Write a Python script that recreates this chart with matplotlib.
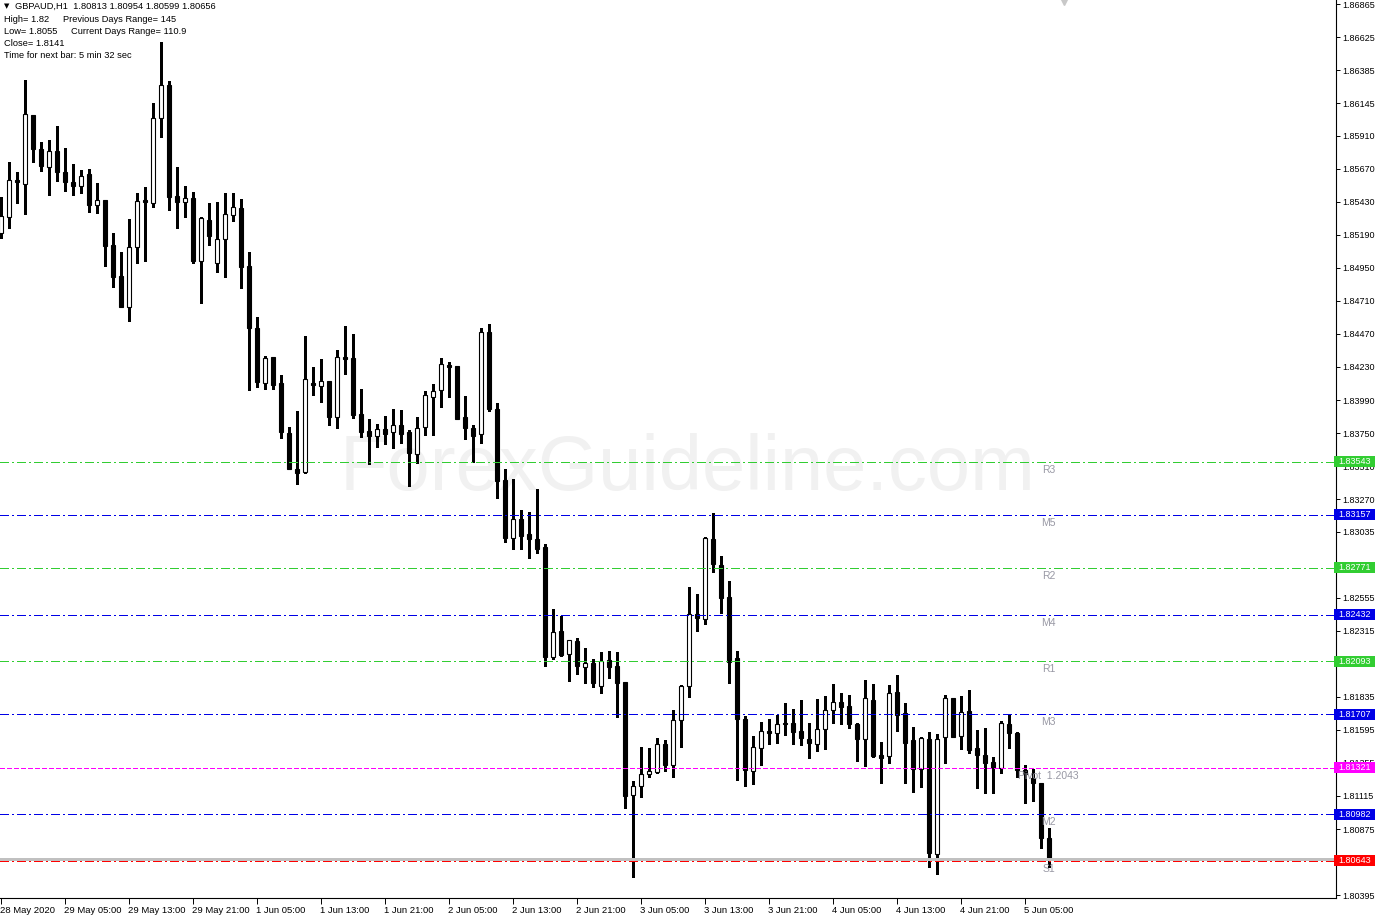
import matplotlib
matplotlib.use('Agg')
import numpy as np
import matplotlib.pyplot as plt
import matplotlib.transforms as mtransforms
from matplotlib.patches import Rectangle

# GBPAUD H1 bars, 28 May 2020 21:00 .. 5 Jun 2020 08:00
opens = [
    1.85201, 1.85321, 1.85588, 1.85557, 1.86060, 1.85811, 1.85680, 1.85799, 1.85644, 1.85571,
    1.85542, 1.85629, 1.85409, 1.85441, 1.85116, 1.84891, 1.84668, 1.85099, 1.85441, 1.85423,
    1.86036, 1.86278, 1.85470, 1.85430, 1.85457, 1.85002, 1.85297, 1.84983, 1.85157, 1.85332,
    1.85385, 1.84963, 1.84511, 1.84116, 1.84300, 1.84112, 1.83749, 1.83489, 1.83470, 1.84114,
    1.84094, 1.84128, 1.83869, 1.84300, 1.84293, 1.83889, 1.83765, 1.83731, 1.83780, 1.83756,
    1.83807, 1.83758, 1.83598, 1.83792, 1.84010, 1.84061, 1.84245, 1.84237, 1.83865, 1.83785,
    1.83741, 1.84482, 1.83923, 1.83409, 1.82986, 1.83126, 1.83015, 1.82979, 1.82923, 1.82122,
    1.82313, 1.82144, 1.82240, 1.82054, 1.82078, 1.81916, 1.82102, 1.82059, 1.81943, 1.81120,
    1.81185, 1.81272, 1.81287, 1.81490, 1.81338, 1.81665, 1.81911, 1.82434, 1.82398, 1.82979,
    1.82792, 1.82560, 1.82115, 1.81672, 1.81299, 1.81466, 1.81587, 1.81570, 1.81645, 1.81645,
    1.81587, 1.81529, 1.81490, 1.81599, 1.81737, 1.81795, 1.81768, 1.81635, 1.81527, 1.81812,
    1.81413, 1.81403, 1.81868, 1.81715, 1.81521, 1.81311, 1.81529, 1.80691, 1.81541, 1.81829,
    1.81548, 1.81732, 1.81461, 1.81413, 1.81364, 1.81316, 1.81638, 1.81574, 1.81304, 1.81243,
    1.81207, 1.80808,
]
highs = [
    1.85467, 1.85721, 1.85648, 1.86314, 1.86060, 1.85862, 1.85876, 1.85980, 1.85818, 1.85704,
    1.85661, 1.85668, 1.85564, 1.85441, 1.85201, 1.85067, 1.85305, 1.85491, 1.85537, 1.86145,
    1.86590, 1.86305, 1.85685, 1.85544, 1.85499, 1.85321, 1.85419, 1.85428, 1.85491, 1.85491,
    1.85450, 1.85063, 1.84595, 1.84310, 1.84305, 1.84172, 1.83796, 1.83913, 1.84455, 1.84232,
    1.84288, 1.84128, 1.84353, 1.84528, 1.84470, 1.84070, 1.83850, 1.83816, 1.83874, 1.83925,
    1.83918, 1.83773, 1.83865, 1.84056, 1.84107, 1.84293, 1.84264, 1.84237, 1.84019, 1.83809,
    1.84511, 1.84542, 1.83966, 1.83489, 1.83417, 1.83192, 1.83175, 1.83342, 1.82945, 1.82473,
    1.82424, 1.82248, 1.82260, 1.82187, 1.82107, 1.82158, 1.82168, 1.82158, 1.81943, 1.81224,
    1.81471, 1.81461, 1.81534, 1.81521, 1.81739, 1.81919, 1.82630, 1.82582, 1.82998, 1.83168,
    1.82858, 1.82676, 1.82168, 1.81699, 1.81551, 1.81652, 1.81672, 1.81703, 1.81792, 1.81744,
    1.81812, 1.81647, 1.81819, 1.81841, 1.81928, 1.81865, 1.81848, 1.81643, 1.81957, 1.81928,
    1.81507, 1.81921, 1.81993, 1.81788, 1.81616, 1.81541, 1.81580, 1.81565, 1.81848, 1.81829,
    1.81843, 1.81885, 1.81594, 1.81606, 1.81396, 1.81659, 1.81703, 1.81582, 1.81340, 1.81309,
    1.81207, 1.80880,
]
lows = [
    1.85165, 1.85237, 1.85419, 1.85341, 1.85721, 1.85655, 1.85481, 1.85583, 1.85510, 1.85481,
    1.85491, 1.85358, 1.85348, 1.84963, 1.84813, 1.84668, 1.84566, 1.84983, 1.85000, 1.85394,
    1.85898, 1.85370, 1.85242, 1.85321, 1.84983, 1.84697, 1.85116, 1.84922, 1.84886, 1.85292,
    1.84806, 1.84063, 1.84087, 1.84068, 1.84068, 1.83712, 1.83492, 1.83378, 1.83462, 1.84027,
    1.83978, 1.83809, 1.83785, 1.84177, 1.83858, 1.83724, 1.83526, 1.83651, 1.83671, 1.83640,
    1.83676, 1.83368, 1.83531, 1.83738, 1.83738, 1.83942, 1.84014, 1.83852, 1.83705, 1.83542,
    1.83680, 1.83910, 1.83277, 1.82961, 1.82906, 1.82906, 1.82841, 1.82881, 1.82061, 1.82110,
    1.82134, 1.81952, 1.82001, 1.81938, 1.81909, 1.81861, 1.81969, 1.81691, 1.81025, 1.80529,
    1.81110, 1.81255, 1.81284, 1.81299, 1.81251, 1.81473, 1.81836, 1.82315, 1.82362, 1.82744,
    1.82441, 1.81933, 1.81231, 1.81187, 1.81202, 1.81340, 1.81495, 1.81500, 1.81558, 1.81495,
    1.81485, 1.81393, 1.81444, 1.81458, 1.81647, 1.81635, 1.81611, 1.81371, 1.81335, 1.81400,
    1.81211, 1.81352, 1.81589, 1.81211, 1.81146, 1.81182, 1.80601, 1.80546, 1.81357, 1.81545,
    1.81458, 1.81429, 1.81171, 1.81134, 1.81134, 1.81284, 1.81461, 1.81255, 1.81062, 1.81081,
    1.80739, 1.80599,
]
closes = [
    1.85327, 1.85588, 1.85576, 1.86067, 1.85811, 1.85692, 1.85799, 1.85648, 1.85571, 1.85547,
    1.85619, 1.85409, 1.85441, 1.85111, 1.84886, 1.84668, 1.85099, 1.85433, 1.85430, 1.86036,
    1.86278, 1.85467, 1.85430, 1.85457, 1.85002, 1.85312, 1.85183, 1.85157, 1.85339, 1.85392,
    1.84958, 1.84511, 1.84123, 1.84293, 1.84101, 1.83760, 1.83492, 1.83462, 1.84143, 1.84101,
    1.84128, 1.83869, 1.84300, 1.84288, 1.83884, 1.83760, 1.83731, 1.83780, 1.83746, 1.83807,
    1.83746, 1.83608, 1.83787, 1.84025, 1.84054, 1.84250, 1.84232, 1.83855, 1.83785, 1.83731,
    1.84482, 1.83923, 1.83404, 1.82986, 1.83124, 1.83005, 1.82979, 1.82911, 1.82126, 1.82304,
    1.82139, 1.82248, 1.82061, 1.82078, 1.81938, 1.82093, 1.82054, 1.81938, 1.81117, 1.81187,
    1.81272, 1.81294, 1.81490, 1.81342, 1.81665, 1.81911, 1.82434, 1.82405, 1.82990, 1.82797,
    1.82555, 1.82090, 1.81672, 1.81301, 1.81468, 1.81587, 1.81574, 1.81635, 1.81635, 1.81582,
    1.81538, 1.81502, 1.81599, 1.81737, 1.81795, 1.81763, 1.81635, 1.81527, 1.81824, 1.81407,
    1.81393, 1.81861, 1.81703, 1.81502, 1.81309, 1.81534, 1.80699, 1.81529, 1.81824, 1.81545,
    1.81723, 1.81452, 1.81409, 1.81357, 1.81316, 1.81647, 1.81570, 1.81304, 1.81275, 1.81207,
    1.80808, 1.80656,
]

# pivot levels drawn by the indicator
level_names = ['R3', 'M5', 'R2', 'M4', 'R1', 'M3', 'Pivot  1.2043', 'M2', 'S1']
level_values = [1.83543, 1.83157, 1.82771, 1.82432, 1.82093, 1.81707, 1.81321, 1.80982, 1.80643]
level_colors = ['#32cd32', '#0000e6', '#32cd32', '#0000e6', '#32cd32', '#0000e6',
                '#ff00ff', '#0000e6', '#ff0000']

price_ticks = [1.86865, 1.86625, 1.86385, 1.86145, 1.85910, 1.85670, 1.85430, 1.85190,
               1.84950, 1.84710, 1.84470, 1.84230, 1.83990, 1.83750, 1.83510, 1.83270,
               1.83035, 1.82795, 1.82555, 1.82315, 1.82075, 1.81835, 1.81595, 1.81355,
               1.81115, 1.80875, 1.80635, 1.80395]
# tick labels that sit completely under a level price box
hidden_ticks = [1.82795, 1.80635]
time_labels = ['28 May 2020', '29 May 05:00', '29 May 13:00', '29 May 21:00', '1 Jun 05:00',
               '1 Jun 13:00', '1 Jun 21:00', '2 Jun 05:00', '2 Jun 13:00', '2 Jun 21:00',
               '3 Jun 05:00', '3 Jun 13:00', '3 Jun 21:00', '4 Jun 05:00', '4 Jun 13:00',
               '4 Jun 21:00', '5 Jun 05:00']

header = 'GBPAUD,H1  1.80813 1.80954 1.80599 1.80656'
info_left = ['High= 1.82', 'Low= 1.8055', 'Close= 1.8141', 'Time for next bar: 5 min 32 sec']
info_right = ['Previous Days Range= 145', 'Current Days Range= 110.9']

plt.rcParams['font.family'] = ['Liberation Sans', 'DejaVu Sans']
plt.rcParams['lines.scale_dashes'] = False

W, H = 1376, 918
fig = plt.figure(figsize=(W / 100, H / 100), dpi=100)
ax = fig.add_axes([0, 20 / H, 1336 / W, 898 / H])
ax.patch.set_visible(False)

ymin, ymax = 1.80374, 1.86895
ax.set_xlim(-0.0625, 166.9375)
ax.set_ylim(ymin, ymax)
ppx = (ymax - ymin) / 898.0

o = np.array(opens)
hi = np.array(highs)
lo = np.array(lows)
c = np.array(closes)
idx = np.arange(len(o))
up = c > o

# watermark
ax.text(688 / W, 1 - 490 / H, 'ForexGuideline.com', transform=fig.transFigure,
        fontsize=56, color='#f1f1f1', ha='center', va='baseline', zorder=0.5)

# candles
ax.vlines(idx, lo, hi, color='black', linewidth=0.75, zorder=2, antialiased=False)
ax.bar(idx[up], (c - o)[up], bottom=o[up], width=0.5, facecolor='white',
       edgecolor='black', linewidth=0.8, zorder=3)
ax.bar(idx[~up], (o - c)[~up], bottom=c[~up], width=0.5, facecolor='black',
       edgecolor='black', linewidth=0.8, zorder=3)

# bid line
ax.axhline(c[-1], color='#c0c0c0', linewidth=0.75, zorder=3.5, antialiased=False)

# level lines, labels and price boxes
trans = mtransforms.blended_transform_factory(fig.transFigure, ax.transData)
for name, val, col in zip(level_names, level_values, level_colors):
    if col == '#ff00ff':
        dash = [2.9, 1.6]
    else:
        dash = [5.8, 2.2, 1.4, 2.2]
    ax.axhline(val, color=col, linewidth=0.75, dashes=dash, zorder=4, antialiased=False)
    ax.annotate(name, xy=(idx[-1], val), xytext=(0, -2.2), textcoords='offset points',
                ha='center', va='top', fontsize=7.5, color='#9898a4', zorder=5)
    box = Rectangle((1334 / W, val - 5.5 * ppx), 41 / W, 11 * ppx, transform=trans,
                    facecolor=col, edgecolor='none', clip_on=False, zorder=10)
    ax.add_patch(box)
    ax.text(1354.5 / W, val, f'{val:.5f}', transform=trans, ha='center', va='center',
            color='white', fontsize=6.5, zorder=11, clip_on=False)

# axes styling
for side in ['top', 'left']:
    ax.spines[side].set_visible(False)
for side in ['right', 'bottom']:
    ax.spines[side].set_linewidth(0.8)
    ax.spines[side].set_color('black')

ax.yaxis.tick_right()
ax.set_yticks(price_ticks)
ax.set_yticklabels(['' if p in hidden_ticks else f'{p:.5f}' for p in price_ticks])
ax.tick_params(axis='y', direction='out', length=3, width=0.7, pad=1.5,
               labelsize=6.5, colors='black')

ax.set_xticks(idx[::8])
ax.set_xticklabels(time_labels)
ax.tick_params(axis='x', direction='out', length=4, width=0.7, pad=1.5,
               labelsize=6.8, colors='black')
for lbl in ax.get_xticklabels():
    lbl.set_horizontalalignment('left')

# chart shift marker
ax.plot([1064 / W], [1 - 1.5 / H], marker='v', markersize=5, color='#c8c8c8',
        transform=fig.transFigure, clip_on=False, zorder=6)

# info text in the top-left corner
fig.text(4 / W, 1 - 6 / H, '\u25bc', fontsize=5, color='black', va='center',
         family='DejaVu Sans')
fig.text(15 / W, 1 - 6 / H, header, fontsize=6.7, color='black', va='center')
for k, txt in enumerate(info_left):
    fig.text(4 / W, 1 - (19 + 12 * k) / H, txt, fontsize=6.7, color='black', va='center')
fig.text(63 / W, 1 - 19 / H, info_right[0], fontsize=6.7, color='black', va='center')
fig.text(71 / W, 1 - 31 / H, info_right[1], fontsize=6.7, color='black', va='center')

fig.savefig('out.png', dpi=100, facecolor='white')
